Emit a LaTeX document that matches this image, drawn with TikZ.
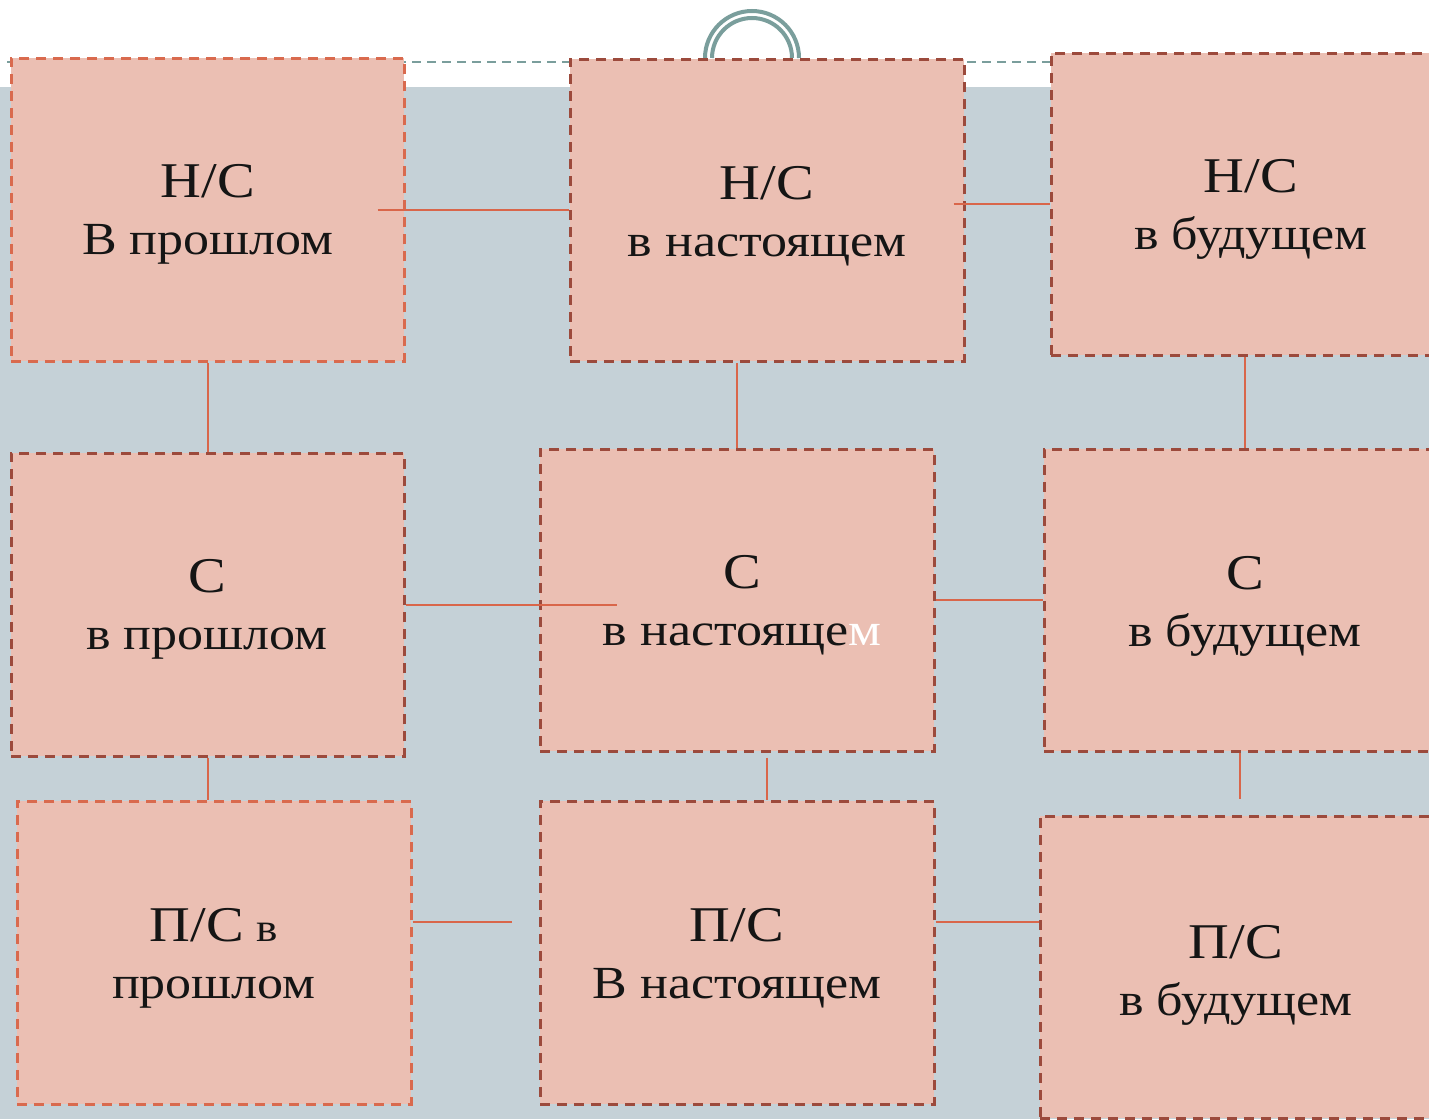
\documentclass[tikz,border=0pt]{standalone}
\usepackage{fontspec}
\setmainfont{Liberation Serif}[FakeStretch=1.13]
\usetikzlibrary{calc}
\definecolor{boxfill}{HTML}{EBBFB3}
\definecolor{bggrey}{HTML}{C5D1D7}
\definecolor{ringteal}{HTML}{7A9E9C}
\definecolor{lightedge}{HTML}{D96A4E}
\definecolor{darkedge}{HTML}{9C4A3C}
\definecolor{connclr}{HTML}{D9664A}
\definecolor{inkclr}{HTML}{151515}
\tikzset{
  boxbase/.style={rectangle, fill=boxfill, line width=3pt, dash pattern=on 10pt off 7pt, inner sep=0pt},
  boxlight/.style={boxbase, draw=lightedge},
  boxdark/.style={boxbase, draw=darkedge},
  label1/.style={inner sep=0pt, align=center, text=inkclr, font=\fontsize{46}{57}\selectfont},
  conn/.style={draw=connclr, line width=2pt},
}
\newcommand{\lineA}[1]{{\fontsize{50}{57}\selectfont #1}}
\begin{document}
\begin{tikzpicture}[x=1pt,y=-1pt]
\clip (0,0) rectangle (1429,1119);
\fill[white] (0,0) rectangle (1429,1119);
\fill[bggrey] (0,87) rectangle (1429,1119);
\coordinate (tl) at (7,62);
\coordinate (tr) at (1051,62);
\draw[ringteal, line width=2pt, dash pattern=on 9pt off 6pt] (tl) -- (tr);
\coordinate (ringc) at (752,58);
\draw[ringteal, line width=4pt] ($(ringc)+(-47,0)$) arc[start angle=180, end angle=0, radius=47pt];
\draw[ringteal, line width=4pt] ($(ringc)+(-40,0)$) arc[start angle=180, end angle=0, radius=40pt];

% boxes
\node[boxlight, minimum width=393pt, minimum height=303pt] (b1) at (207.5,209.5) {};
\node[boxdark,  minimum width=394pt, minimum height=302pt] (b2) at (767,210) {};
\node[boxdark,  minimum width=400pt, minimum height=302pt] (b3) at (1251,204) {};
\node[boxdark,  minimum width=393pt, minimum height=303pt] (b4) at (207.5,604.5) {};
\node[boxdark,  minimum width=394pt, minimum height=302pt] (b5) at (737,600) {};
\node[boxdark,  minimum width=402pt, minimum height=302pt] (b6) at (1245,600) {};
\node[boxlight, minimum width=394pt, minimum height=303pt] (b7) at (214,952.5) {};
\node[boxdark,  minimum width=394pt, minimum height=303pt] (b8) at (737,952.5) {};
\node[boxdark,  minimum width=392pt, minimum height=302pt] (b9) at (1236,967) {};

% connectors
\coordinate (c1) at ($(b1.east)+(-28,0)$);
\draw[conn] (c1) -- (c1 -| b2.west);
\coordinate (c2) at ($(b2.east |- b3.west)+(-12,0)$);
\draw[conn] (c2) -- (b3.west);
\draw[conn] (b1.south) -- (b4.north);
\draw[conn] (b5.north) -- (b5.north |- b2.south);
\draw[conn] (b6.north) -- (b6.north |- b3.south);
\coordinate (c6) at ($(b4.east)+(211,0)$);
\draw[conn] (b4.east) -- (c6);
\draw[conn] (b5.east) -- (b5.east -| b6.west);
\draw[conn] (b4.south) -- (b4.south |- b7.north);
\coordinate (c9) at ($(b5.south)+(30,5)$);
\draw[conn] (c9) -- (c9 |- b8.north);
\coordinate (c10a) at ($(b6.south)+(-5,0)$);
\coordinate (c10b) at ($(b6.south)+(-5,46)$);
\draw[conn] (c10a) -- (c10b);
\coordinate (c11a) at ($(b7.east)+(0,-30.5)$);
\coordinate (c11b) at ($(b7.east)+(99,-30.5)$);
\draw[conn] (c11a) -- (c11b);
\coordinate (c12) at ($(b8.east)+(0,-30.5)$);
\draw[conn] (c12) -- (c12 -| b9.west);

% texts
\node[label1] (t1) at (208,214.5) {\lineA{Н/С}\\ В прошлом};
\node[label1] (t2) at (767,216) {\lineA{Н/С}\\ в настоящем};
\node[label1] (t3) at (1251,209.5) {\lineA{Н/С}\\ в будущем};
\node[label1] (t4) at (207,609.5) {\lineA{С}\\ в прошлом};
\node[label1] (t5) at (742,605) {\lineA{С}\\ в настояще\textcolor{white}{м}};
\node[label1] (t6) at (1245,606) {\lineA{С}\\ в будущем};
\node[label1] (t7) at (214,958.5) {\lineA{П/С} {\fontsize{40}{57}\selectfont в}\\ прошлом};
\node[label1] (t8) at (737,958.5) {\lineA{П/С}\\ В настоящем};
\node[label1] (t9) at (1236,975) {\lineA{П/С}\\ в будущем};
\end{tikzpicture}
\end{document}
